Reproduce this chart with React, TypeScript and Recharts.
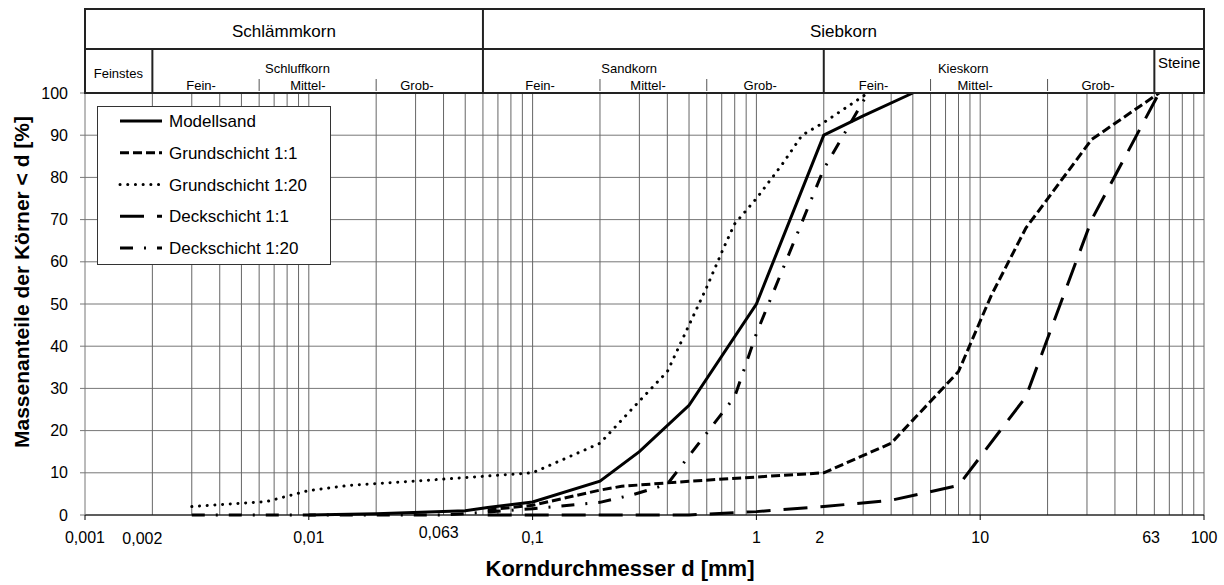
import React from 'react';
import { LineChart, Line, XAxis, YAxis, CartesianGrid, ReferenceLine } from 'recharts';

// ---------- data ----------
const modellsand: [number, number][] = [
  [0.01, 0], [0.02, 0.3], [0.05, 1], [0.063, 1.8], [0.1, 3.1], [0.2, 8], [0.3, 15],
  [0.5, 26], [1, 50], [2, 90], [3, 94.6], [5, 100],
];
const grundschicht11: [number, number][] = [
  [0.063, 1.2], [0.1, 2.3], [0.2, 5.9], [0.25, 6.8], [0.5, 8], [1, 9], [2, 10],
  [4, 17], [8, 34], [11.2, 52], [16, 68], [31.5, 89], [63, 100],
];
const grundschicht120: [number, number][] = [
  [0.003, 2], [0.0065, 3.2], [0.01, 5.8], [0.015, 7], [0.04, 8.5], [0.1, 10], [0.2, 17],
  [0.3, 27], [0.4, 34], [0.5, 45], [0.6, 54], [0.71, 63], [0.8, 69], [1, 75], [1.3, 83],
  [1.6, 90], [2, 93], [3.15, 100],
];
const deckschicht11: [number, number][] = [
  [0.063, 0], [0.5, 0], [1, 0.8], [2, 2], [4, 3.5], [8, 7], [16, 28], [31.5, 70], [63, 100],
];
const deckschicht120: [number, number][] = [
  [0.003, 0], [0.04, 0], [0.063, 0.7], [0.1, 1.5], [0.2, 3], [0.28, 4.8], [0.4, 7.3],
  [0.5, 14], [0.8, 28], [1, 43], [2, 82], [3.15, 100],
];

const seriesNames = ['Modellsand', 'Grundschicht 1:1', 'Grundschicht 1:20', 'Deckschicht 1:1', 'Deckschicht 1:20'];
const seriesData = [modellsand, grundschicht11, grundschicht120, deckschicht11, deckschicht120];

const gridValues = [
  0.002, 0.003, 0.004, 0.005, 0.006, 0.007, 0.008, 0.009,
  0.01, 0.02, 0.03, 0.04, 0.05, 0.06, 0.07, 0.08, 0.09,
  0.1, 0.2, 0.3, 0.4, 0.5, 0.6, 0.7, 0.8, 0.9,
  1, 2, 3, 4, 5, 6, 7, 8, 9,
  10, 20, 30, 40, 50, 60, 70, 80, 90, 100,
];
const decadeValues = [0.001, 0.01, 0.1, 1, 10, 100];
const xLabelValues = [0.001, 0.002, 0.01, 0.063, 0.1, 1, 2, 10, 63, 100];
const xLabelTexts = ['0,001', '0,002', '0,01', '0,063', '0,1', '1', '2', '10', '63', '100'];
const yTicks = [0, 10, 20, 30, 40, 50, 60, 70, 80, 90, 100];

const headerRow1 = [
  { label: 'Schlämmkorn', from: 0.001, to: 0.06 },
  { label: 'Siebkorn', from: 0.06, to: 100 },
];
const headerGroups = [
  { label: 'Feinstes', at: 0.00141 },
  { label: 'Schluffkorn', at: 0.0089 },
  { label: 'Sandkorn', at: 0.27 },
  { label: 'Kieskorn', at: 8.4 },
];
const headerRow2Dividers = [0.002, 2, 60];
const subLabels = [
  { label: 'Fein-', at: 0.0033 }, { label: 'Mittel-', at: 0.0099 }, { label: 'Grob-', at: 0.0304 },
  { label: 'Fein-', at: 0.108 }, { label: 'Mittel-', at: 0.328 }, { label: 'Grob-', at: 1.04 },
  { label: 'Fein-', at: 3.34 }, { label: 'Mittel-', at: 9.5 }, { label: 'Grob-', at: 33.6 },
];
const subDividers = [0.006, 0.02, 0.2, 0.6, 6, 20];

// ---------- layout / style ----------
const W = 1224;
const H = 585;
const PL = 85;
const PR = 1204;
const PT = 93;
const PB = 515;
const FONT = '"Liberation Sans", Arial, sans-serif';

const styles = [
  { dash: undefined, width: 3, cap: 'butt' },
  { dash: '9 4', width: 3, cap: 'butt' },
  { dash: '0.1 7.6', width: 3, cap: 'round' },
  { dash: '24 13', width: 3, cap: 'butt' },
  { dash: '13 11 2 11', width: 3, cap: 'butt' },
];

const labelNudge: Record<string, [number, number]> = {
  '0.002': [-10, 1],
  '0.063': [-49, -5],
  '2': [-4, 0],
  '63': [-8, 0],
};

const xOf = (v: number) => PL + ((Math.log10(v) + 3) / 5) * (PR - PL);

const XTick = (props: any) => {
  const { x, y, payload } = props;
  const v = payload.value as number;
  const i = xLabelValues.indexOf(v);
  const isDecade = decadeValues.includes(v);
  const [dx, dy] = labelNudge[String(v)] || [0, 0];
  return (
    <g>
      {isDecade && <line x1={x} x2={x} y1={y} y2={y + 5} stroke="#000" strokeWidth={1} />}
      <text x={x + dx} y={y + 28 + dy} textAnchor="middle" fontSize={16} fill="#000" fontFamily={FONT}>
        {i >= 0 ? xLabelTexts[i] : ''}
      </text>
    </g>
  );
};

const Overlay = () => {
  const top = 9;
  const mid = 49;
  return (
    <svg width={W} height={H} style={{ position: 'absolute', left: 0, top: 0, pointerEvents: 'none' }} fontFamily={FONT}>
      {/* header table */}
      <rect x={PL} y={top} width={PR - PL} height={PT - top} fill="#fff" stroke="#222" strokeWidth={2} />
      <line x1={PL} x2={PR} y1={mid} y2={mid} stroke="#222" strokeWidth={2} />
      {headerRow1.slice(1).map((h) => (
        <line key={h.label} x1={xOf(h.from)} x2={xOf(h.from)} y1={top} y2={PT} stroke="#222" strokeWidth={2} />
      ))}
      {headerRow2Dividers.map((v) => (
        <line key={v} x1={xOf(v)} x2={xOf(v)} y1={mid} y2={PT} stroke="#222" strokeWidth={2} />
      ))}
      {subDividers.map((v) => (
        <line key={v} x1={xOf(v)} x2={xOf(v)} y1={79} y2={91} stroke="#555" strokeWidth={1} />
      ))}
      {headerRow1.map((h) => (
        <text key={h.label} x={(xOf(h.from) + xOf(h.to)) / 2} y={37} textAnchor="middle" fontSize={17} fill="#000">
          {h.label}
        </text>
      ))}
      {headerGroups.map((g) => (
        <text key={g.label} x={xOf(g.at)} y={g.label === 'Feinstes' ? 77.5 : 72.5} textAnchor="middle" fontSize={13} fill="#000">
          {g.label}
        </text>
      ))}
      <text x={(xOf(60) + xOf(100)) / 2} y={68} textAnchor="middle" fontSize={15} fill="#000">Steine</text>
      {subLabels.map((s, i) => (
        <text key={i} x={xOf(s.at)} y={89.5} textAnchor="middle" fontSize={13} fill="#000">
          {s.label}
        </text>
      ))}

      {/* legend */}
      <rect x={97.5} y={106.5} width={233} height={158} fill="#fff" stroke="#333" strokeWidth={1} />
      {seriesNames.map((n, i) => {
        const cy = 121 + i * 31.75;
        const st = styles[i];
        return (
          <g key={n}>
            <line x1={120} x2={162} y1={cy} y2={cy} stroke="#000" strokeWidth={st.width}
              strokeDasharray={st.dash} strokeLinecap={st.cap as any} />
            <text x={169} y={cy + 6} fontSize={17} fill="#000">{n}</text>
          </g>
        );
      })}

      {/* axis titles */}
      <text x={620} y={576} textAnchor="middle" fontSize={22} fontWeight="bold" fill="#000">Korndurchmesser d [mm]</text>
      <text x={0} y={0} transform="translate(29,282) rotate(-90)" textAnchor="middle" fontSize={21} fontWeight="bold" fill="#000">
        Massenanteile der Körner &lt; d [%]
      </text>
    </svg>
  );
};

export default function App() {
  return (
    <div style={{ position: 'absolute', left: 0, top: 0, width: W, height: H, background: '#fff', fontFamily: FONT }}>
      <LineChart width={W} height={H} margin={{ top: PT, right: W - PR, bottom: 10, left: 0 }}>
        <CartesianGrid vertical={false} stroke="#777" strokeWidth={1} />
        <XAxis
          dataKey="d"
          type="number"
          scale="log"
          domain={[0.001, 100]}
          allowDataOverflow
          ticks={xLabelValues}
          interval={0}
          tickLine={false}
          tickSize={0}
          tickMargin={0}
          tick={<XTick />}
          axisLine={{ stroke: '#000', strokeWidth: 1 }}
          height={H - PB - 10}
        />
        <YAxis
          type="number"
          domain={[0, 100]}
          ticks={yTicks}
          interval={0}
          width={PL}
          tickSize={5}
          tickMargin={12}
          tick={{ fontSize: 16, fill: '#000', fontFamily: FONT }}
          axisLine={{ stroke: '#777' }}
          tickLine={{ stroke: '#777' }}
        />
        {gridValues.map((v) => (
          <ReferenceLine key={v} x={v} stroke="#666" strokeWidth={1} ifOverflow="visible" />
        ))}
        {seriesNames.map((n, i) => (
          <Line
            key={n}
            name={n}
            data={seriesData[i].map(([d, p]) => ({ d, p }))}
            dataKey="p"
            type="linear"
            stroke="#000"
            strokeWidth={styles[i].width}
            strokeDasharray={styles[i].dash}
            strokeLinecap={styles[i].cap as any}
            dot={false}
            activeDot={false}
            isAnimationActive={false}
          />
        ))}
      </LineChart>
      <Overlay />
    </div>
  );
}
